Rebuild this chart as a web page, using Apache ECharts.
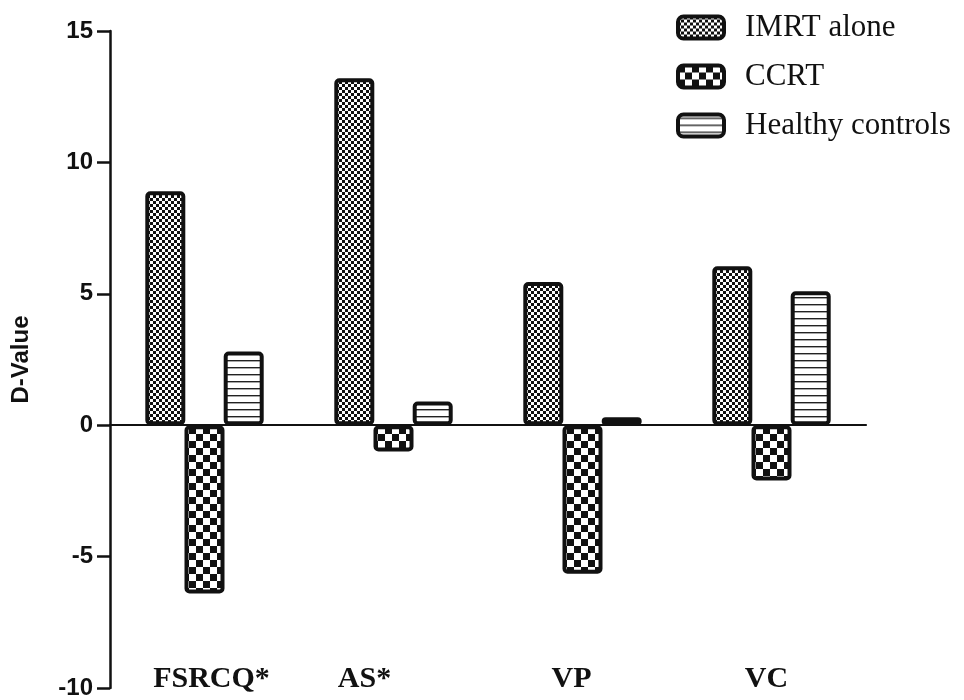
<!DOCTYPE html>
<html>
<head>
<meta charset="utf-8">
<script src="https://cdn.jsdelivr.net/npm/echarts@6/dist/echarts.min.js"></script>
<style>
html,body{margin:0;padding:0;background:#fff;}
#chart{width:964px;height:700px;}
</style>
</head>
<body>
<div id="chart"></div>
<script>
const categories = ['FSRCQ*', 'AS*', 'VP', 'VC'];
const seriesNames = ['IMRT alone', 'CCRT', 'Healthy controls'];
const imrtAlone = [8.9, 13.2, 5.45, 6.05];
const ccrt = [-6.4, -1.0, -5.65, -2.1];
const healthyControls = [2.8, 0.9, 0.3, 5.1];
const yTicks = { min: -10, max: 15, interval: 5 };

// label horizontal nudges (styling only)
const labelShift = [14, -58, -22, -10];

function checker(cell) {
  const c = document.createElement('canvas');
  c.width = c.height = cell * 2;
  const ctx = c.getContext('2d');
  ctx.fillStyle = '#fff';
  ctx.fillRect(0, 0, c.width, c.height);
  ctx.fillStyle = '#111';
  ctx.fillRect(0, 0, cell, cell);
  ctx.fillRect(cell, cell, cell, cell);
  return c;
}
function hlines(period) {
  const c = document.createElement('canvas');
  c.width = 4; c.height = period;
  const ctx = c.getContext('2d');
  ctx.fillStyle = '#fff';
  ctx.fillRect(0, 0, c.width, c.height);
  ctx.fillStyle = '#222';
  ctx.fillRect(0, 3, 4, 1.4);
  return c;
}
const fills = [
  { image: checker(3), repeat: 'repeat' },
  { image: checker(7), repeat: 'repeat' },
  { image: hlines(7), repeat: 'repeat' }
];
const values = [imrtAlone, ccrt, healthyControls];

const rich = {};
labelShift.forEach((s, i) => {
  rich['c' + i] = {
    fontFamily: '"Liberation Serif", "Times New Roman", serif', fontWeight: 'bold', fontSize: 30, color: '#111',
    padding: s >= 0 ? [0, 0, 0, s] : [0, -s, 0, 0]
  };
});

const chart = echarts.init(document.getElementById('chart'));
const option = {
  animation: false,
  backgroundColor: '#fff',
  grid: { left: 110, right: 98, top: 31, bottom: 12, containLabel: false },
  legend: {
    orient: 'vertical',
    left: 676, top: 12,
    padding: 0,
    itemWidth: 46, itemHeight: 22,
    itemGap: 18,
    icon: 'roundRect',
    itemStyle: { borderColor: '#111', borderWidth: 4 },
    textStyle: { fontFamily: '"Liberation Serif", "Times New Roman", serif', fontSize: 31, color: '#111', padding: [0, 0, 0, 16] },
    data: seriesNames
  },
  xAxis: [
    {
      type: 'category', data: categories, position: 'bottom',
      axisLine: { show: false, onZero: false }, axisTick: { show: false },
      axisLabel: {
        margin: -24, interval: 0,
        formatter: (v, i) => '{c' + i + '|' + v + '}',
        rich
      }
    },
    {
      type: 'category', data: categories, position: 'bottom',
      axisLine: { show: true, onZero: true, lineStyle: { color: '#111', width: 2.2 } },
      axisTick: { show: false }, axisLabel: { show: false }
    }
  ],
  yAxis: {
    type: 'value', min: yTicks.min, max: yTicks.max, interval: yTicks.interval,
    name: 'D-Value', nameLocation: 'middle', nameGap: 77,
    nameTextStyle: { fontFamily: '"Liberation Sans", Arial, sans-serif', fontWeight: 'bold', fontSize: 24, color: '#111' },
    axisLine: { show: true, lineStyle: { color: '#111', width: 2.5 } },
    axisTick: { show: true, length: 13, lineStyle: { color: '#111', width: 2.5 } },
    axisLabel: { margin: 17, fontFamily: '"Liberation Sans", Arial, sans-serif', fontWeight: 'bold', fontSize: 24, color: '#111' },
    splitLine: { show: false }
  },
  series: seriesNames.map((name, i) => ({
    name, type: 'bar', data: values[i], xAxisIndex: 0,
    barWidth: 40, barGap: '-2%',
    itemStyle: { color: fills[i], borderColor: '#111', borderWidth: 4, borderRadius: 3 }
  }))
};
chart.setOption(option);
</script>
</body>
</html>
